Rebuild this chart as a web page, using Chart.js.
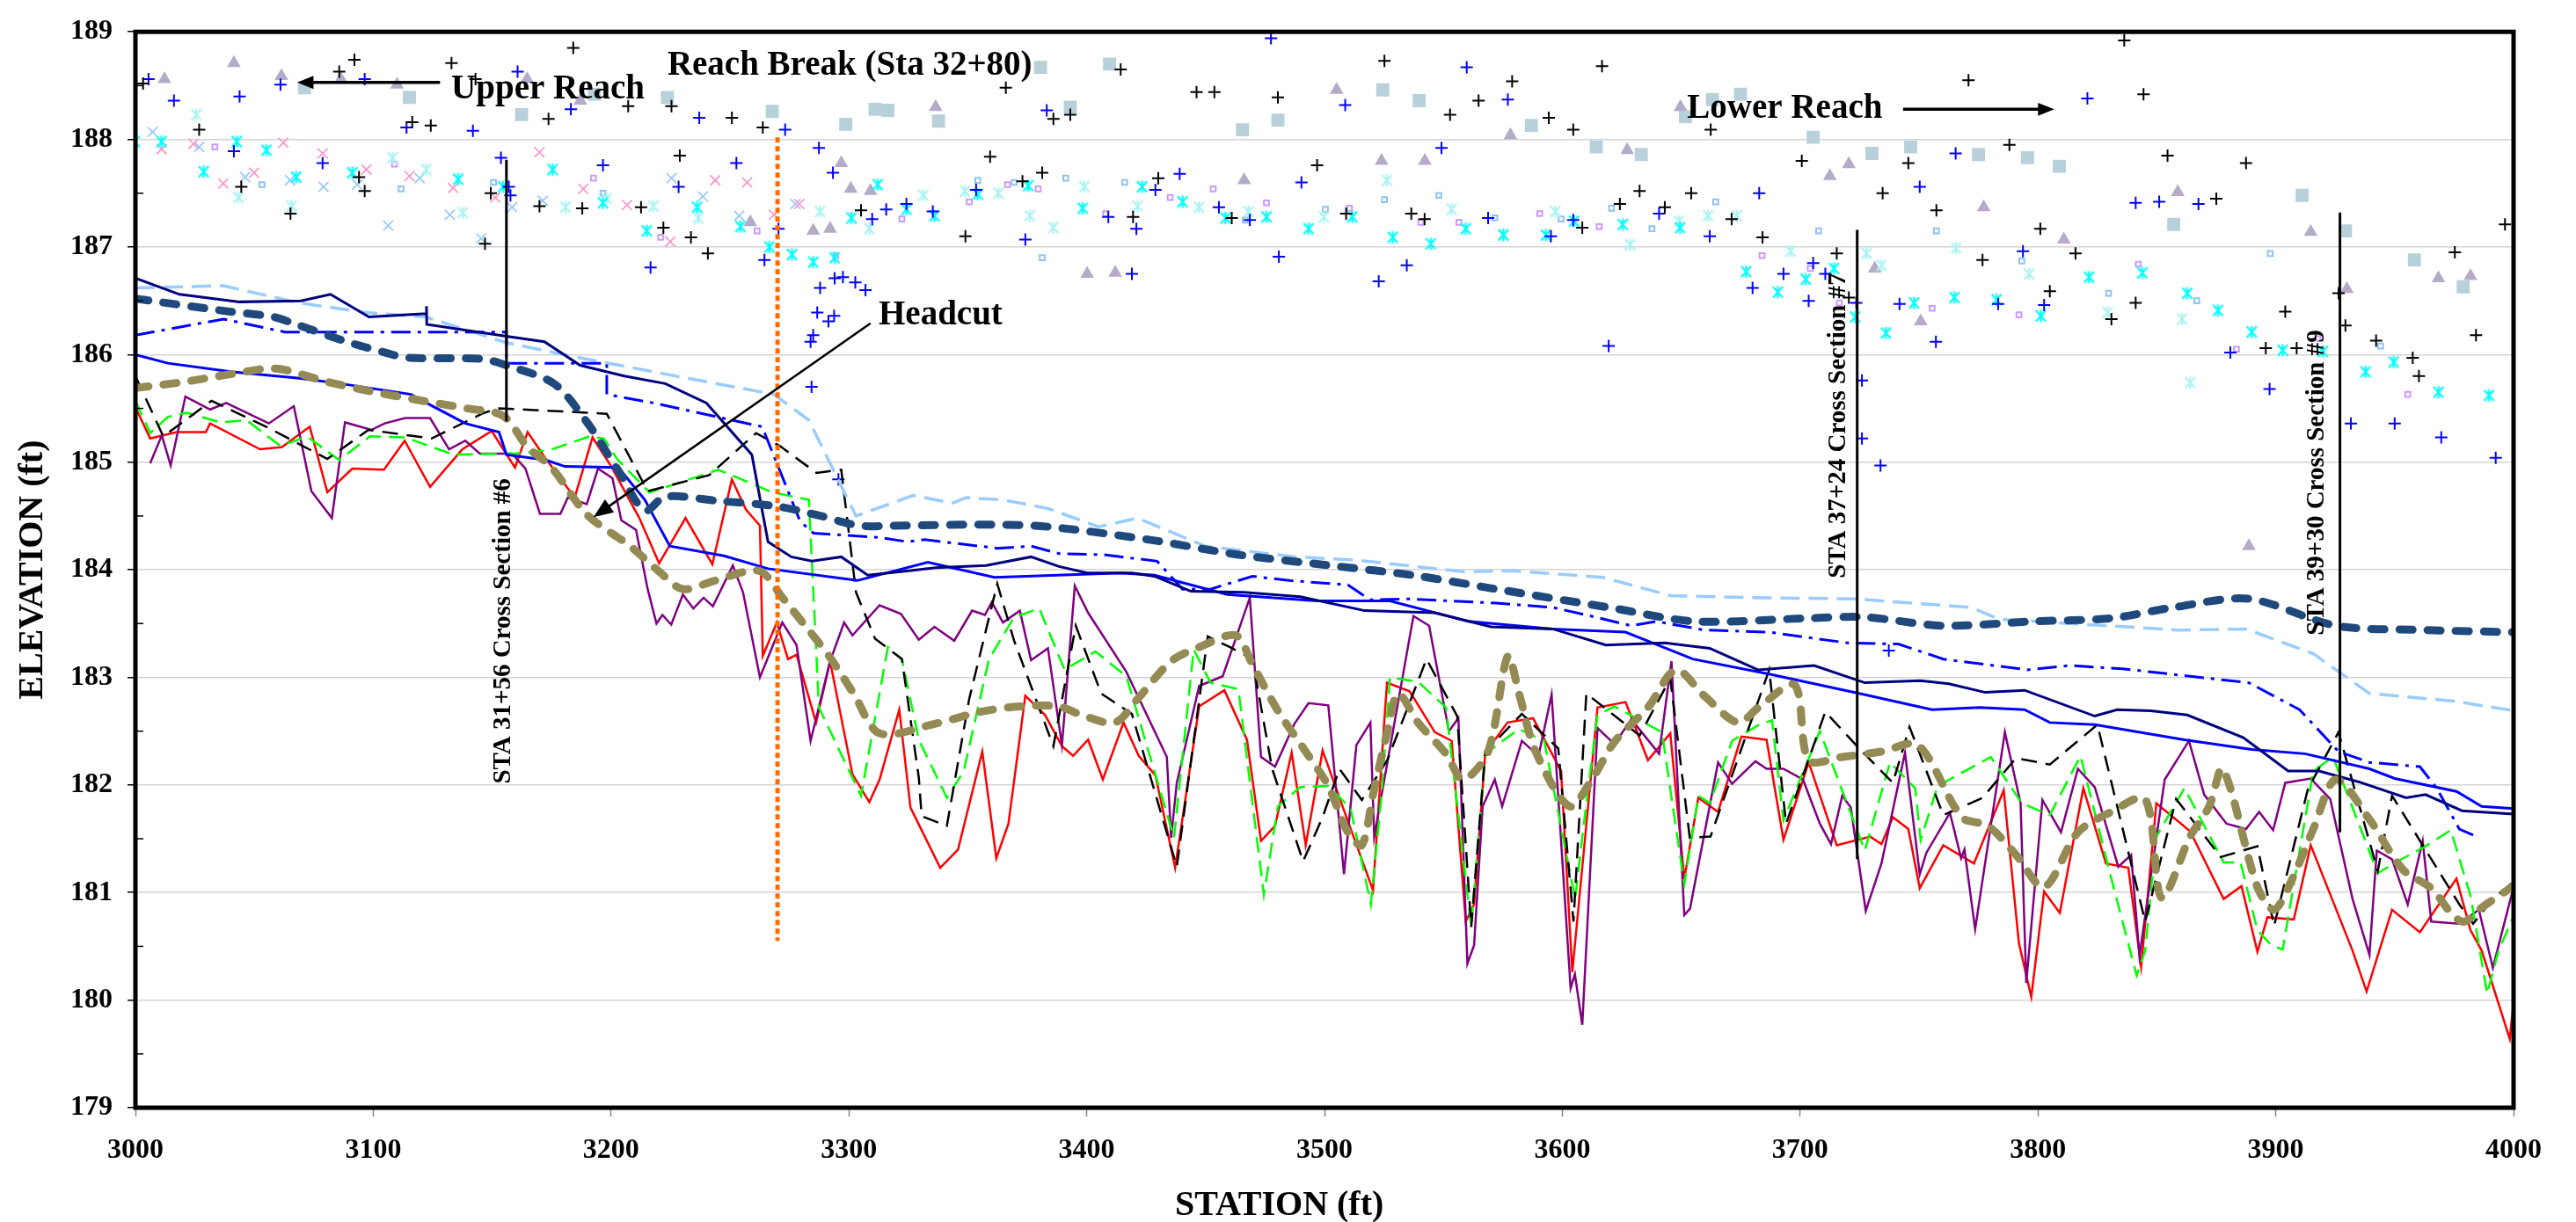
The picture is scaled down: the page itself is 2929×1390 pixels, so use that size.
<!DOCTYPE html>
<html>
<head>
<meta charset="utf-8">
<title>Channel Profile 3000-4000</title>
<script src="https://cdn.jsdelivr.net/npm/chart.js@4.4.1/dist/chart.umd.min.js"></script>
<style>
  html, body { margin: 0; padding: 0; background: #fff; }
  canvas { display: block; }
</style>
</head>
<body>
<canvas id="profileChart" width="2929" height="1390"></canvas>
<script>
// ---- survey data: [station (ft), elevation (ft)] ----

// water surface / top-of-bank style profiles
const navyProfile = [[3000,186.71],[3018.5,186.56],[3043.8,186.49],[3069.6,186.5],[3082,186.56],[3098.2,186.35],[3122.3,186.38],[3122.4,186.45],[3122.5,186.28],[3156,186.17],[3172,186.12],[3187,185.9],[3205.6,185.8],[3222.8,185.73],[3240.1,185.55],[3259.2,185.07],[3266,184.26],[3275.8,184.12],[3284.5,184.08],[3296.8,184.12],[3307.9,183.95],[3325.2,183.99],[3336.5,184.02],[3357.7,184.04],[3376.6,184.12],[3388.4,184.03],[3400.2,183.97],[3419,183.97],[3428.5,183.94],[3443.8,183.8],[3466.2,183.79],[3489.8,183.75],[3516.9,183.62],[3546.4,183.6],[3570,183.47],[3596,183.45],[3618.3,183.3],[3643.1,183.32],[3662,183.27],[3682.3,183.07],[3705.9,183.11],[3727.2,182.95],[3750.7,182.97],[3762.5,182.94],[3777.9,182.86],[3794.4,182.88],[3823.9,182.64],[3833.3,182.7],[3847.4,182.69],[3862.8,182.65],[3886.4,182.44],[3905.2,182.13],[3918.2,182.13],[3934.7,182.03],[3954.8,181.88],[3963,181.91],[3978.3,181.76],[4000,181.73]];
const blueProfile = [[3000,186],[3013.6,185.92],[3040.7,185.84],[3069,185.78],[3086.3,185.73],[3115.9,185.63],[3123.3,185.54],[3138.7,185.36],[3152.9,185.28],[3156,185.07],[3172.6,185.02],[3180.6,184.96],[3203.1,184.95],[3214.2,184.65],[3224.7,184.22],[3247.5,184.13],[3266,184.01],[3303.6,183.9],[3333.2,184.07],[3361.2,183.93],[3414.3,183.97],[3428.5,183.95],[3459.1,183.77],[3496.9,183.71],[3527.5,183.71],[3560.5,183.52],[3596,183.45],[3626.6,183.42],[3654.9,183.17],[3687,183.03],[3724.8,182.85],[3755.5,182.7],[3775.5,182.72],[3794.4,182.7],[3805,182.58],[3823.9,182.56],[3861.6,182.42],[3889.9,182.33],[3912.3,182.29],[3939.4,182.15],[3950,182.06],[3976,181.94],[3986.6,181.8],[4000,181.78]];
const dashDotProfile = [[3000,186.18],[3037,186.33],[3062.9,186.21],[3156,186.21],[3156,185.92],[3198.2,185.92],[3198.2,185.63],[3217.9,185.55],[3263.5,185.33],[3271,184.92],[3279.5,184.45],[3285.1,184.34],[3312.9,184.3],[3324.7,184.26],[3331.8,184.28],[3362.4,184.2],[3376.6,184.22],[3388.4,184.15],[3407.2,184.14],[3429.6,184.08],[3440.3,183.82],[3452.1,183.82],[3469.7,183.94],[3485.1,183.9],[3509.8,183.86],[3519.3,183.72],[3534.6,183.73],[3572.3,183.69],[3596,183.65],[3610,183.58],[3629,183.48],[3639.5,183.52],[3659.6,183.44],[3687,183.42],[3720,183.32],[3741.3,183.31],[3760.2,183.17],[3795.6,183.07],[3813.2,183.11],[3835.6,183.08],[3864,183.01],[3888.7,182.95],[3910,182.7],[3926.4,182.31],[3939.4,182.21],[3960.6,182.17],[3967.7,181.97],[3977.2,181.59],[3985.4,181.51]];
const paleDashProfile = [[3000,186.62],[3037,186.64],[3069,186.48],[3097.4,186.39],[3122,186.35],[3156,186.11],[3184.6,185.98],[3217.9,185.84],[3268.5,185.63],[3283.2,185.39],[3303,184.5],[3327,184.69],[3343.6,184.62],[3349.5,184.67],[3364.8,184.65],[3383.7,184.57],[3404.9,184.4],[3421.4,184.48],[3449.7,184.22],[3487.4,184.12],[3513.4,184.09],[3559.4,183.98],[3579.4,183.99],[3617.1,183.93],[3645.5,183.76],[3682.7,183.74],[3722.4,183.73],[3772,183.65],[3783.8,183.54],[3859.2,183.44],[3887.5,183.45],[3915.8,183.22],[3939.4,182.85],[3974.8,182.78],[4000,182.69]];
const avgWaterSurface = [[3000,186.52],[3039.4,186.4],[3058,186.35],[3069,186.27],[3088.8,186.12],[3104.8,186.02],[3114.6,185.97],[3145.5,185.96],[3156,185.9],[3176,185.73],[3189.6,185.38],[3203.1,184.92],[3214.2,184.55],[3222.8,184.68],[3245,184.64],[3269.7,184.59],[3288.2,184.5],[3304.2,184.41],[3319,184.41],[3360,184.42],[3383.7,184.4],[3426.1,184.28],[3463.8,184.14],[3506.3,184.03],[3537,183.95],[3572.3,183.82],[3619.5,183.65],[3656,183.52],[3703.6,183.55],[3727.2,183.56],[3760.2,183.48],[3797.9,183.52],[3830.9,183.55],[3856.9,183.65],[3888.7,183.73],[3925.3,183.48],[3963,183.44],[4000,183.42]];

// thalweg surveys
const redThalweg = [[3000,185.51],[3006.2,185.22],[3017.3,185.28],[3029.6,185.28],[3031.4,185.36],[3052.4,185.12],[3061.6,185.14],[3073.3,185.33],[3080.7,184.72],[3091.2,184.94],[3104.5,184.93],[3113.2,185.2],[3123.9,184.77],[3137.5,185.12],[3149.8,185.29],[3159.6,184.95],[3164.9,185.28],[3172.6,185.03],[3184.7,184.67],[3192.2,185.23],[3200.1,184.96],[3211.9,184.48],[3220.2,184.06],[3231.3,184.48],[3242.6,184.05],[3250.8,184.84],[3256.7,184.56],[3262.6,184.41],[3263.8,183.2],[3269.7,183.51],[3274.4,183.17],[3278,183.21],[3286.2,182.58],[3292.1,183.15],[3301.5,182.1],[3308.6,181.84],[3312.9,182.05],[3321.2,182.7],[3325.9,181.79],[3338.4,181.23],[3345.9,181.4],[3356.1,182.31],[3362,181.32],[3367.1,181.64],[3374.2,182.83],[3382.5,182.65],[3389.6,182.36],[3394.3,182.27],[3400.6,182.42],[3406.8,182.05],[3415.5,182.58],[3421.9,182.27],[3428.9,182.09],[3437.2,181.23],[3447.3,182.73],[3457.9,182.88],[3467.4,182.42],[3473.3,181.48],[3479.2,181.62],[3486.2,182.3],[3492.1,181.44],[3499.2,182.32],[3506.3,181.88],[3520.4,181.02],[3525.2,182.61],[3526.3,182.95],[3535.8,182.87],[3546.4,182.49],[3553.5,182.41],[3559.4,180.73],[3562.9,180.89],[3567.6,182.3],[3577,182.58],[3587.7,182.62],[3599.5,182.13],[3604.2,180.26],[3614.8,182.72],[3626.6,182.77],[3636,182.23],[3645.4,182.48],[3651.3,181.13],[3657.2,181.88],[3665.5,181.75],[3675.3,182.45],[3685.9,182.42],[3693,181.49],[3703.6,182.21],[3715.4,181.44],[3729.5,181.52],[3734.2,181.45],[3739,181.7],[3745.5,181.59],[3750.3,181.04],[3760.2,181.44],[3773.1,181.27],[3785.6,181.95],[3792,180.53],[3797.2,180.03],[3802.6,181.01],[3809.2,180.81],[3819.1,181.97],[3828.6,181.27],[3838,181.23],[3843.4,180.31],[3849.8,181.83],[3864,181.57],[3878.1,180.94],[3885.6,181.06],[3892.3,180.45],[3896.5,180.77],[3907.6,180.75],[3914.7,181.44],[3932.3,180.46],[3938.2,180.08],[3948.9,180.84],[3960.6,180.63],[3976,181.13],[3981.9,180.65],[3986.6,180.46],[3998.4,179.64],[4000,179.98]];
const purpleThalweg = [[3006.2,184.99],[3011.1,185.25],[3014.8,184.97],[3021,185.61],[3031.4,185.49],[3038.2,185.55],[3056.1,185.36],[3066.6,185.52],[3074,184.73],[3082.6,184.48],[3088.1,185.37],[3099.2,185.3],[3104.8,185.36],[3113.4,185.41],[3123.9,185.41],[3131.9,185.12],[3138.7,185.2],[3144.8,185.08],[3158.4,185.08],[3164,184.94],[3170.1,184.52],[3178.7,184.52],[3181.8,184.67],[3189.8,184.61],[3194.5,184.94],[3200.6,184.85],[3204.3,184.46],[3210.5,184.37],[3215.4,183.82],[3219.1,183.5],[3221.6,183.58],[3225.3,183.49],[3230.2,183.77],[3234.6,183.64],[3238.9,183.74],[3242.8,183.66],[3251.2,184.04],[3255.5,183.79],[3262.6,183],[3272,183.51],[3278,183.3],[3283.9,182.41],[3292.1,183.15],[3298,183.51],[3301.5,183.39],[3312.9,183.67],[3321.9,183.59],[3329.4,183.35],[3336,183.47],[3344.3,183.34],[3351.8,183.62],[3357.2,183.58],[3360.1,183.7],[3364.8,183.51],[3371.9,183.62],[3376.6,183.16],[3383.7,183.27],[3389.6,182.37],[3395,183.85],[3400.6,183.6],[3416.7,183.05],[3433.7,182.26],[3435.5,181.51],[3437.9,182.02],[3447.3,182.92],[3457.2,183.01],[3468.6,183.74],[3473.3,182.26],[3479.2,182.17],[3487.4,182.57],[3493.3,182.76],[3501.6,182.74],[3508.2,181.17],[3513.4,182.37],[3519.3,182.58],[3520.9,181.52],[3537.4,183.57],[3544,183.48],[3552.3,182.5],[3556.3,182.62],[3560.1,180.34],[3562.9,180.51],[3566.5,181.8],[3571.6,182.05],[3574.7,181.8],[3583,182.41],[3590,182.27],[3595.5,182.84],[3603.5,180.11],[3605.3,180.24],[3608.4,179.77],[3614.8,182.53],[3621.9,182.38],[3629,182.61],[3640.7,182.29],[3645.9,183.15],[3651.3,180.79],[3653.7,180.85],[3665.5,182.21],[3671.4,182.01],[3681.2,182.22],[3685.9,182.15],[3693,182.15],[3701.2,182.05],[3708.3,181.64],[3713,181.45],[3717.7,181.9],[3721.3,181.79],[3727.6,180.83],[3734.2,181.27],[3744.1,182.3],[3750.3,181.17],[3753.1,181.37],[3763,181.74],[3767.7,181.32],[3769.1,181.4],[3773.6,180.66],[3786.1,182.49],[3792.7,181.83],[3795.1,180.16],[3801.9,181.86],[3809.7,181.56],[3816.8,182.15],[3823.9,181.98],[3833.8,181.24],[3839.2,181.35],[3842.7,180.41],[3853.3,182.05],[3863.5,182.41],[3869.9,181.91],[3879.3,181.64],[3887.5,181.59],[3893,181.75],[3898.9,181.58],[3904,182.02],[3914.7,182.06],[3922.9,181.87],[3932.3,180.94],[3939.4,180.42],[3942.5,181.39],[3948.9,181.31],[3955.5,180.89],[3961.8,181.48],[3965.4,180.73],[3977.2,180.71],[3985.4,180.84],[3991.3,180.3],[4000,181.05]];
const greenThalweg = [[3000,185.57],[3006.2,185.27],[3013.6,185.42],[3021.6,185.46],[3035.7,185.37],[3046.8,185.39],[3061,185.15],[3072.1,185.24],[3085.7,185.02],[3098.6,185.24],[3113.4,185.23],[3133.8,185.07],[3159,185.08],[3173.8,185.11],[3191,185.24],[3197,185.22],[3202.5,185.03],[3216.1,184.72],[3241.3,184.9],[3245,184.93],[3254.9,184.84],[3267.8,184.72],[3283.2,184.65],[3287.4,182.72],[3305.1,181.9],[3316.4,183.28],[3322.3,183.17],[3329.4,182.42],[3341.2,181.88],[3348.3,182.13],[3358.9,183.17],[3369.5,183.56],[3380.1,183.64],[3390.7,183.07],[3403.7,183.24],[3416.7,183.01],[3436.7,181.51],[3445,183.26],[3452.1,182.95],[3463.8,182.89],[3474.5,180.98],[3480.4,181.8],[3489.8,181.98],[3501.6,181.99],[3511,181.78],[3519.5,180.89],[3524,181.91],[3527.5,183],[3539.3,182.96],[3551.1,182.72],[3561.7,180.68],[3567.6,182.29],[3581.8,182.52],[3592.4,182.41],[3605.4,180.94],[3610.1,181.83],[3614.8,182.65],[3621.9,182.73],[3641.9,182.49],[3651.3,181.08],[3657.2,181.9],[3662,181.83],[3671.4,182.41],[3682.7,182.56],[3688.2,182.6],[3693,181.67],[3708.3,182.5],[3727.2,181.39],[3737.8,182.21],[3748.4,181.97],[3750.7,181.49],[3757.8,181.99],[3780.2,182.26],[3793.2,181.83],[3805,181.72],[3817.9,182.27],[3829.7,181.23],[3841.5,180.23],[3845.1,180.46],[3849.8,181.52],[3861.6,181.97],[3878.1,181.28],[3885.2,181.28],[3892.3,180.65],[3898.2,180.51],[3902.9,180.47],[3915.8,182.13],[3924.1,182.26],[3942.9,181.18],[3951.2,181.29],[3963,181.43],[3973.6,181.58],[3981.9,180.97],[3988.9,180.06],[3993.7,180.46],[4000,180.78]];
const blackThalweg = [[3000,185.8],[3011.7,185.24],[3032,185.57],[3056.7,185.31],[3080.7,185.03],[3098,185.3],[3124.5,185.22],[3146.7,185.46],[3152.9,185.5],[3189.8,185.46],[3198.2,185.45],[3215.4,184.73],[3241.3,184.88],[3261,185.27],[3271,185.15],[3286.4,184.9],[3296.8,184.93],[3303,183.79],[3311,183.36],[3322.3,183.17],[3329.4,182.07],[3330.6,181.71],[3341.2,181.62],[3350.6,182.8],[3362.4,183.87],[3369.5,183.34],[3386,182.36],[3395.4,183.48],[3406.1,182.85],[3419,182.66],[3437.9,181.24],[3450.9,183.38],[3460.3,183.28],[3469.7,183.17],[3478,182.15],[3491,181.29],[3499.2,181.7],[3506.3,182.15],[3515.7,181.86],[3526.4,182.23],[3542.9,183.17],[3555.8,182.64],[3561.7,180.68],[3567.6,182.31],[3583,182.66],[3598.3,182.34],[3604.7,180.73],[3610.1,182.85],[3632.5,182.46],[3645.4,182.99],[3653.6,181.51],[3662.3,181.52],[3687,183.07],[3694.1,181.64],[3710.6,182.68],[3724.8,182.34],[3739,182.02],[3746,182.54],[3760.2,181.72],[3776.7,181.88],[3790.8,182.25],[3805,182.19],[3825,182.56],[3845.1,180.73],[3858.1,181.87],[3876.9,181.33],[3892.3,181.43],[3899.3,180.69],[3913.5,181.96],[3926.4,182.49],[3942.9,181.2],[3948.9,181.9],[3977.2,180.89],[3983,180.71],[3991.3,180.94],[4000,181.1]];
const avgThalweg = [[3000,185.69],[3018.5,185.74],[3040.7,185.82],[3059.2,185.87],[3080.1,185.75],[3098.6,185.66],[3118.3,185.58],[3139.3,185.5],[3154.7,185.43],[3164.9,185.14],[3175,184.95],[3190,184.51],[3208,184.22],[3220.4,183.98],[3230.2,183.82],[3243.8,183.9],[3262.3,183.99],[3272.1,183.74],[3282,183.47],[3291.9,183.19],[3302,182.85],[3312.9,182.48],[3336.5,182.57],[3355.4,182.68],[3371.9,182.73],[3388.4,182.73],[3397.8,182.65],[3411.9,182.58],[3421.4,182.8],[3435.5,183.15],[3447.3,183.28],[3462.7,183.39],[3469.7,183.12],[3480.4,182.69],[3492.1,182.31],[3501.6,181.99],[3509.8,181.56],[3515.7,181.44],[3520.4,181.91],[3526.3,182.48],[3531,182.85],[3539.3,182.58],[3551.1,182.29],[3558.2,182.05],[3568.8,182.31],[3577.1,183.2],[3581.8,182.85],[3588.8,182.31],[3603,181.8],[3612.4,182.05],[3621.9,182.4],[3636,182.72],[3647.8,183.07],[3659.6,182.83],[3673.8,182.58],[3682.5,182.72],[3697.7,182.93],[3703.6,182.23],[3717.7,182.26],[3734.2,182.31],[3749.6,182.37],[3768,181.7],[3779,181.62],[3790.8,181.35],[3802.6,181.05],[3816.8,181.56],[3830.9,181.75],[3845.1,181.87],[3852,180.95],[3864,181.52],[3872,181.8],[3877.7,182.15],[3892.3,181.05],[3899.3,180.84],[3906.4,181.1],[3915.8,181.59],[3925.3,182.05],[3939.4,181.68],[3953.6,181.21],[3965.4,181.04],[3974.8,180.78],[3979.5,180.73],[3986.6,180.86],[4000,181.06]];

// bank / terrace spot elevations
const blackPlus = [[3003.2,188.52],[3026.8,188.09],[3044.5,187.56],[3065.2,187.31],[3085.7,188.63],[3092.1,188.74],[3094,187.65],[3096.4,187.52],[3116.4,188.16],[3124.2,188.13],[3132.9,188.71],[3143,188.56],[3147,187.03],[3149.4,187.5],[3169.9,187.38],[3173.7,188.19],[3184.1,188.85],[3187.9,187.36],[3207.2,188.31],[3212.6,187.37],[3222,187.18],[3225.4,188.31],[3228.9,187.85],[3233.6,187.09],[3240.7,186.94],[3250.8,188.2],[3263.8,188.11],[3305.1,187.34],[3349,187.1],[3359.4,187.84],[3366,188.48],[3373,187.61],[3381.3,187.69],[3386,188.19],[3393.1,188.23],[3414.3,188.65],[3419.5,187.28],[3430.1,187.64],[3446.2,188.44],[3453.7,188.44],[3461,187.27],[3480.4,188.39],[3496.9,187.76],[3509.1,187.31],[3525.2,188.73],[3536.5,187.31],[3542.1,187.26],[3552.8,188.23],[3564.8,188.36],[3578.9,188.54],[3594.3,188.2],[3604.6,188.09],[3608.4,187.18],[3616.7,188.68],[3624.2,187.4],[3632.5,187.52],[3643.1,187.37],[3654.2,187.5],[3662.4,188.09],[3671.2,187.26],[3684.2,187.09],[3700.7,187.8],[3715.4,186.94],[3720.5,186.53],[3734.7,187.5],[3745.5,187.78],[3757.3,187.34],[3770.8,188.55],[3776.7,186.88],[3788,187.95],[3801,187.17],[3805,186.59],[3815.8,186.94],[3830.9,186.33],[3836.3,188.92],[3841.1,186.48],[3844.4,188.42],[3854.5,187.85],[3875,187.45],[3887.5,187.78],[3895.8,186.06],[3904,186.4],[3908.8,186.06],[3926.4,186.57],[3929.3,186.27],[3942.2,186.13],[3957.6,185.97],[3960.2,185.8],[3975.3,186.95],[3984.2,186.18],[3996.4,187.21]];
const bluePlus = [[3005.5,188.56],[3016.2,188.36],[3041.4,187.89],[3043.8,188.4],[3061,188.51],[3078.7,187.78],[3096.4,188.56],[3114,188.11],[3141.9,188.08],[3153.7,187.83],[3157,187.56],[3157.7,187.48],[3160.7,188.63],[3183.1,188.28],[3196.6,187.76],[3216.6,186.81],[3228.4,187.56],[3237.1,188.2],[3252.7,187.78],[3264.5,186.88],[3270.4,187.17],[3273.2,188.09],[3283.9,186.12],[3284.3,185.7],[3285,186.18],[3286.7,186.39],[3287.4,187.92],[3287.9,186.62],[3291.4,186.31],[3293.3,187.69],[3293.8,186.36],[3294,186.71],[3295.6,184.84],[3297.5,186.72],[3302.7,186.67],[3307,186.6],[3309.8,187.26],[3315.7,187.35],[3324.2,187.4],[3335.3,187.33],[3353.5,187.53],[3374.2,187.07],[3383.2,188.27],[3409.1,187.28],[3419,186.75],[3420.9,187.17],[3428.9,187.53],[3439.1,187.68],[3455.6,187.37],[3468.6,187.25],[3477.5,188.94],[3480.8,186.91],[3490.3,187.6],[3508.7,188.32],[3522.8,186.68],[3534.6,186.83],[3549.2,187.92],[3559.8,188.67],[3568.8,187.27],[3577.1,188.37],[3595.2,187.1],[3604.6,187.25],[3619.5,186.08],[3640.7,187.31],[3662,187.1],[3680,186.62],[3682.8,187.5],[3693,186.75],[3703.6,186.5],[3705.5,186.85],[3710.6,186.75],[3723.6,186.48],[3726,185.76],[3726,185.22],[3733.8,184.97],[3737.3,183.25],[3741.8,186.47],[3750.3,187.56],[3757.1,186.12],[3765.4,187.87],[3783.3,186.47],[3793.7,186.96],[3802.6,186.46],[3820.8,188.38],[3841.1,187.41],[3851,187.42],[3867.5,187.4],[3880.9,186.02],[3897.4,185.68],[3931.6,185.36],[3950,185.36],[3969.6,185.23],[3992.5,185.04]];
const cyanStar = [[2999.7,187.98],[3011,187.98],[3028.7,187.7],[3042.6,187.98],[3055.1,187.9],[3067.6,187.65],[3091.2,187.69],[3135.7,187.63],[3154.6,187.56],[3175.4,187.72],[3196.6,187.41],[3215,187.15],[3236.2,187.37],[3254.4,187.19],[3266.6,187],[3276.1,186.93],[3285,186.86],[3294,186.9],[3301.1,187.27],[3312.1,187.58],[3324.2,187.35],[3336,187.29],[3354.2,187.49],[3375.4,187.57],[3398.3,187.36],[3423.3,187.56],[3440.3,187.42],[3458.4,187.27],[3475.6,187.28],[3493.3,187.17],[3511.7,187.28],[3528.7,187.09],[3544.7,187.03],[3559.4,187.17],[3575.2,187.11],[3593.1,187.11],[3604.9,187.24],[3625.4,187.21],[3649.5,187.18],[3677.3,186.77],[3690.6,186.58],[3702.4,186.7],[3714.2,186.8],[3723.1,186.35],[3736.1,186.2],[3747.9,186.48],[3764.9,186.53],[3782.6,186.51],[3801.2,186.36],[3821.5,186.72],[3843.9,186.76],[3862.8,186.57],[3875.7,186.41],[3889.9,186.21],[3902.9,186.04],[3919.8,186.03],[3937.8,185.84],[3949.6,185.93],[3968.4,185.65],[3989.7,185.62]];
const paleStar = [[3025.6,188.23],[3043.3,187.46],[3065.7,187.38],[3108.1,187.83],[3122.3,187.72],[3137.6,187.32],[3180.8,187.37],[3198.2,187.45],[3217.8,187.38],[3236.7,187.27],[3287.9,187.33],[3308.6,187.17],[3331.3,187.48],[3348.8,187.52],[3362.9,187.5],[3376.1,187.29],[3386,187.18],[3399,187.56],[3421.4,187.38],[3447.3,187.37],[3468.1,187.33],[3499.7,187.28],[3526.3,187.62],[3553.5,187.35],[3575.2,187.12],[3597.1,187.33],[3628.5,187.02],[3649,187.24],[3661.3,187.29],[3673.3,187.29],[3696,186.96],[3727.9,186.94],[3734.2,186.83],[3765.6,186.99],[3796.3,186.75],[3829.3,186.39],[3860.6,186.33],[3864,185.74]];
const pinkX = [[3011,187.91],[3024.4,187.96],[3036.9,187.59],[3049.9,187.69],[3062.2,187.97],[3078.7,187.87],[3097.1,187.72],[3115.2,187.66],[3133.6,187.55],[3151.3,187.46],[3169.9,187.88],[3188.3,187.54],[3206.7,187.39],[3224.9,187.05],[3243.8,187.62],[3257.2,187.6],[3268.5,187.3],[3279.1,187.4]];
const lightBlueX = [[3007.2,188.07],[3026.8,187.93],[3046.1,187.65],[3065,187.62],[3079.1,187.56],[3093.3,187.58],[3106.3,187.2],[3119.5,187.64],[3132.2,187.3],[3145.4,187.08],[3158.4,187.37],[3171.3,187.43],[3225.4,187.64],[3238.6,187.47],[3253.9,187.29],[3277.5,187.4]];
const lilacSquare = [[3033.4,187.93],[3108.9,187.77],[3192.6,187.64],[3220.9,187.09],[3261.4,187.15],[3294.5,186.92],[3322.3,187.26],[3350.6,187.42],[3366.7,187.58],[3379.6,187.54],[3408,187.31],[3435.1,187.46],[3453.2,187.54],[3475.6,187.41],[3510.5,187.36],[3540.5,187.23],[3556.5,187.23],[3590.5,187.31],[3615.5,187.19],[3684,186.92],[3704.3,186.8],[3716.5,186.48],[3755.5,186.43],[3792,186.37],[3842.2,186.84],[3883.5,186.05],[3917.7,186.15],[3955.5,185.63]];
const skySquare = [[3053.2,187.58],[3111.7,187.54],[3150.6,187.6],[3196.6,187.5],[3354.2,187.62],[3369.5,187.6],[3381.3,186.9],[3391.2,187.64],[3416,187.6],[3466.7,187.25],[3500.4,187.35],[3525.2,187.44],[3548.1,187.48],[3571.6,187.27],[3599.5,187.26],[3620.7,187.36],[3637.7,187.17],[3664.5,187.42],[3707.8,187.15],[3757.3,187.15],[3793.2,186.87],[3829.7,186.57],[3866.8,186.5],[3897.7,186.94],[3944.1,186.08]];
const greyTriangle = [[3012.2,188.56],[3041.4,188.71],[3061.4,188.59],[3086.4,188.56],[3110,188.51],[3164.7,188.56],[3187.1,188.36],[3258.6,187.23],[3285,187.15],[3292.1,187.17],[3296.8,187.78],[3300.8,187.54],[3309.1,187.52],[3336.5,188.3],[3400.2,186.75],[3412,186.76],[3466.2,187.62],[3505.1,188.46],[3524,187.8],[3542.2,187.8],[3578.2,188.04],[3627.3,187.9],[3649.7,188.3],[3712.5,187.66],[3720.5,187.77],[3731.4,186.8],[3750.7,186.31],[3777.2,187.37],[3810.9,187.07],[3858.8,187.51],[3888.7,184.22],[3914.7,187.14],[3929.9,186.61],[3968.4,186.71],[3981.9,186.73]];
const steelSquare = [[3071.1,188.48],[3115.2,188.39],[3162.4,188.23],[3193,188.42],[3223.7,188.39],[3267.8,188.26],[3298.7,188.14],[3311,188.28],[3316.4,188.27],[3337.7,188.17],[3380.6,188.67],[3393.1,188.3],[3409.6,188.7],[3465.5,188.09],[3480.4,188.18],[3524.5,188.46],[3539.8,188.36],[3587,188.13],[3614.3,187.93],[3633.2,187.86],[3651.8,188.21],[3663.1,188.37],[3674.9,188.42],[3705.5,188.02],[3730.2,187.87],[3746.5,187.93],[3775,187.86],[3795.6,187.83],[3809,187.75],[3857.1,187.21],[3911.1,187.48],[3929.3,187.15],[3958.3,186.88],[3978.8,186.63]];

// surveyed cross sections and the reach break
const sectionSta = [3156, 3724, 3927];
const sectionTop = [187.81, 187.16, 187.32];
const sectionBase = [185.38, 181.31, 181.56];
const sectionNames = ['STA 31+56 Cross Section #6', 'STA 37+24 Cross Section #7', 'STA 39+30 Cross Section #9'];
const sectionLabelSta = [3157.5, 3718.9, 3920.1];
const sectionLabelElev = [183.43, 185.34, 184.81];
const breakSta = 3270, breakTop = 188.02, breakBase = 180.55;

// callouts: [station, elevation] of text baseline start
const notes = [
  { text: 'Upper Reach', at: [3132.8, 188.38] },
  { text: 'Reach Break (Sta 32+80)', at: [3223.7, 188.6] },
  { text: 'Lower Reach', at: [3652.5, 188.2] },
  { text: 'Headcut', at: [3312.5, 186.28] }
];
const noteArrows = [
  { from: [3128.1, 188.53], to: [3068, 188.53], width: 3.5, head: 20 },
  { from: [3743.3, 188.28], to: [3806.9, 188.28], width: 3.5, head: 20 },
  { from: [3309.1, 186.29], to: [3192.6, 184.49], width: 2.5, head: 24 }
];

const xTicks = { min: 3000, max: 4000, step: 100 };
const yTicks = { min: 179, max: 189, step: 1 };

// ---- helpers ----
const pts = arr => arr.map(([x, y]) => ({ x, y }));

// six-armed asterisk marker (X with a vertical bar)
function asterisk(color, r, lw) {
  const c = document.createElement('canvas');
  const s = Math.ceil(2 * r + 2 * lw);
  c.width = c.height = s;
  const g = c.getContext('2d');
  g.strokeStyle = color;
  g.lineWidth = lw;
  const m = s / 2, d = r * 0.8;
  g.beginPath();
  g.moveTo(m, m - r); g.lineTo(m, m + r);
  g.moveTo(m - d, m - r * 0.9); g.lineTo(m + d, m + r * 0.9);
  g.moveTo(m + d, m - r * 0.9); g.lineTo(m - d, m + r * 0.9);
  g.stroke();
  return c;
}

function lineSet(points, color, width, dash, extra) {
  return Object.assign({
    data: pts(points), showLine: true, borderColor: color, backgroundColor: color,
    borderWidth: width, borderDash: dash || [], pointRadius: 0, tension: 0, fill: false
  }, extra || {});
}

function markSet(points, style, color, radius, extra) {
  return Object.assign({
    data: pts(points), showLine: false, pointStyle: style, pointRadius: radius,
    borderColor: color, backgroundColor: color, pointBorderWidth: 2
  }, extra || {});
}

function drawArrow(ctx, x1, y1, x2, y2, head) {
  const a = Math.atan2(y2 - y1, x2 - x1);
  ctx.beginPath();
  ctx.moveTo(x1, y1);
  ctx.lineTo(x2 - head * 0.8 * Math.cos(a), y2 - head * 0.8 * Math.sin(a));
  ctx.stroke();
  ctx.beginPath();
  ctx.moveTo(x2, y2);
  ctx.lineTo(x2 - head * Math.cos(a - 0.38), y2 - head * Math.sin(a - 0.38));
  ctx.lineTo(x2 - head * Math.cos(a + 0.38), y2 - head * Math.sin(a + 0.38));
  ctx.closePath();
  ctx.fill();
}

// text, arrows, half-foot ticks and the heavy frame
const profileNotes = {
  id: 'profileNotes',
  afterDatasetsDraw(chart) {
    const { ctx, chartArea: area, scales: { x, y } } = chart;
    ctx.save();
    ctx.strokeStyle = '#000';
    ctx.fillStyle = '#000';

    ctx.lineWidth = 1.5;
    for (let v = yTicks.min + 0.5; v < yTicks.max; v += yTicks.step) {
      const py = y.getPixelForValue(v);
      ctx.beginPath();
      ctx.moveTo(area.left, py);
      ctx.lineTo(area.left + 9, py);
      ctx.stroke();
    }

    ctx.lineWidth = 5;
    ctx.strokeRect(area.left, area.top, area.right - area.left, area.bottom - area.top);

    ctx.font = 'bold 39px "Liberation Serif", "Times New Roman", serif';
    ctx.textAlign = 'left';
    ctx.textBaseline = 'alphabetic';
    notes.forEach(n => ctx.fillText(n.text, x.getPixelForValue(n.at[0]), y.getPixelForValue(n.at[1])));

    noteArrows.forEach(a => {
      ctx.lineWidth = a.width;
      drawArrow(ctx, x.getPixelForValue(a.from[0]), y.getPixelForValue(a.from[1]),
        x.getPixelForValue(a.to[0]), y.getPixelForValue(a.to[1]), a.head);
    });

    ctx.font = 'bold 29px "Liberation Serif", "Times New Roman", serif';
    ctx.textAlign = 'center';
    sectionNames.forEach((name, i) => {
      ctx.save();
      ctx.translate(x.getPixelForValue(sectionLabelSta[i]), y.getPixelForValue(sectionLabelElev[i]));
      ctx.rotate(-Math.PI / 2);
      ctx.fillText(name, 0, 0);
      ctx.restore();
    });

    // axis titles
    ctx.font = 'bold 40px "Liberation Serif", "Times New Roman", serif';
    ctx.fillText('STATION (ft)', area.left + (area.right - area.left) * 0.481, area.bottom + 122);
    ctx.save();
    ctx.translate(area.left - 106, (area.top + area.bottom) / 2);
    ctx.rotate(-Math.PI / 2);
    ctx.fillText('ELEVATION (ft)', 0, 0);
    ctx.restore();

    ctx.restore();
  }
};

// ---- datasets (first in list is drawn on top) ----
const datasets = [];

sectionSta.forEach((s, i) => {
  datasets.push(lineSet([[s, sectionTop[i]], [s, sectionBase[i]]], '#000', 3));
});
datasets.push(lineSet([[breakSta, breakTop], [breakSta, breakBase]], '#FF6A00', 5, [6, 4]));

datasets.push(lineSet(avgWaterSurface, '#1F497D', 9, [15, 17], { borderCapStyle: 'round', tension: 0.3 }));
datasets.push(lineSet(avgThalweg, '#948A54', 9, [15, 17], { borderCapStyle: 'round', tension: 0.3 }));
datasets.push(lineSet(navyProfile, '#000080', 3));
datasets.push(lineSet(blueProfile, '#0000FF', 3));
datasets.push(lineSet(dashDotProfile, '#0000FF', 3, [22, 8, 4, 8]));
datasets.push(lineSet(paleDashProfile, '#99CCFF', 3.5, [22, 10]));
datasets.push(lineSet(blackThalweg, '#000000', 2.5, [18, 10]));
datasets.push(lineSet(greenThalweg, '#00FF00', 2.5, [18, 9]));
datasets.push(lineSet(purpleThalweg, '#800080', 2.5));
datasets.push(lineSet(redThalweg, '#FF0000', 2.5));

datasets.push(markSet(blackPlus, 'cross', '#000000', 7));
datasets.push(markSet(bluePlus, 'cross', '#0000FF', 7));
datasets.push(markSet(cyanStar, asterisk('#00FFFF', 7, 2.2), '#00FFFF', 7));
datasets.push(markSet(paleStar, asterisk('#ADF3F3', 7, 2.2), '#ADF3F3', 7));
datasets.push(markSet(pinkX, 'crossRot', '#FF99CC', 8, { pointBorderWidth: 1.8 }));
datasets.push(markSet(lightBlueX, 'crossRot', '#99CCFF', 8, { pointBorderWidth: 1.8 }));
datasets.push(markSet(lilacSquare, 'rect', '#CC99FF', 4, { backgroundColor: '#FFFFFF' }));
datasets.push(markSet(skySquare, 'rect', '#8EC2F5', 4, { backgroundColor: '#FFFFFF' }));
datasets.push(markSet(greyTriangle, 'triangle', '#B5ABC9', 9, { pointBorderWidth: 0 }));
datasets.push(markSet(steelSquare, 'rect', '#B7D0DA', 10.5, { pointBorderWidth: 0 }));

const tickFont = { family: '"Liberation Serif", "Times New Roman", serif', size: 32, weight: 'bold' };

const ctx = document.getElementById('profileChart').getContext('2d');
new Chart(ctx, {
  type: 'scatter',
  data: { datasets: datasets },
  options: {
    responsive: false,
    animation: false,
    devicePixelRatio: 1,
    layout: { padding: { top: 21, right: 71, left: 0, bottom: 0 } },
    plugins: { legend: { display: false }, tooltip: { enabled: false } },
    scales: {
      x: {
        type: 'linear', min: xTicks.min, max: xTicks.max,
        afterFit: scale => { scale.height = 130; },
        ticks: { stepSize: xTicks.step, padding: 20, color: '#000', font: tickFont, callback: v => String(v) },
        grid: { drawOnChartArea: false, tickLength: 10, tickColor: '#888', tickWidth: 1.5 },
        border: { display: false }
      },
      y: {
        type: 'linear', min: yTicks.min, max: yTicks.max,
        afterFit: scale => { scale.width = 154; },
        ticks: { stepSize: yTicks.step, padding: 17, color: '#000', font: tickFont, callback: v => String(v) },
        grid: { color: '#D4D4D4', lineWidth: 1.5, tickLength: 9, tickColor: '#000', tickWidth: 1.5 },
        border: { display: false }
      }
    }
  },
  plugins: [profileNotes]
});
</script>
</body>
</html>
